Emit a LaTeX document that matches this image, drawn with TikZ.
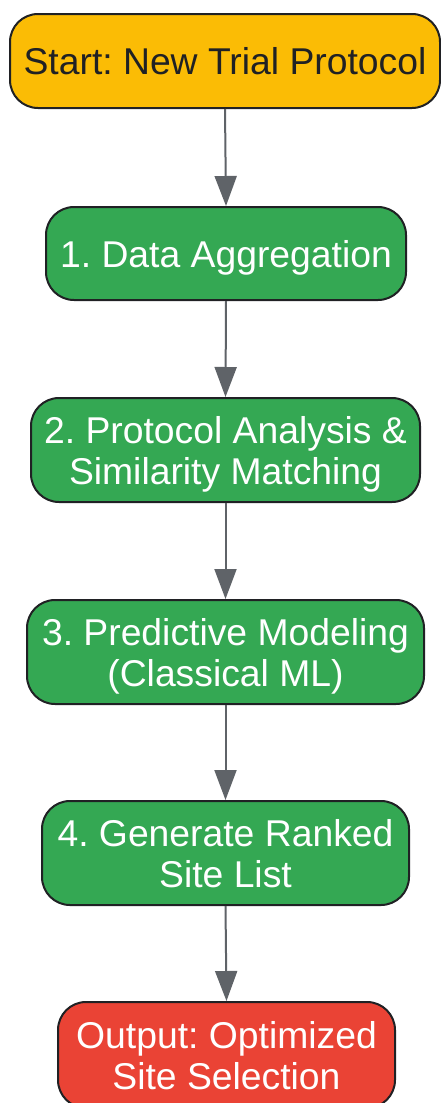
\documentclass[tikz,border=0pt]{standalone}
\usepackage{fontspec}
\setmainfont{Liberation Sans}
\usetikzlibrary{arrows.meta}
\definecolor{gyellow}{HTML}{FBBC05}
\definecolor{ggreen}{HTML}{34A853}
\definecolor{gred}{HTML}{EA4335}
\definecolor{gborder}{HTML}{202124}
\definecolor{garrow}{HTML}{5F6368}
\tikzset{
  stepbox/.style={draw=gborder, line width=2pt, rounded corners=28pt, align=center,
    inner sep=0pt, text depth=0pt, font=\fontsize{37.3}{41}\selectfont\frenchspacing},
  startbox/.style={stepbox, fill=gyellow, text=gborder},
  procbox/.style={stepbox, fill=ggreen, text=white},
  endbox/.style={stepbox, fill=gred, text=white},
  flow/.style={draw=garrow, line width=2pt, -{Triangle[length=30pt,width=22pt]}}
}
\begin{document}
\begin{tikzpicture}[x=1pt,y=-1pt]
\useasboundingbox (0,0) rectangle (441,1103);
\node[startbox, minimum width=430pt, minimum height=94pt] (n1) at (225,61) {Start: New Trial Protocol};
\node[procbox, minimum width=360pt, minimum height=93pt] (n2) at (226,253.5) {1. Data Aggregation};
\node[procbox, minimum width=389pt, minimum height=104pt] (n3) at (225.5,450) {2. Protocol Analysis \&\\Similarity Matching};
\node[procbox, minimum width=397pt, minimum height=104pt] (n4) at (225.5,652) {3. Predictive Modeling\\(Classical ML)};
\node[procbox, minimum width=367pt, minimum height=104pt] (n5) at (225.5,853) {4. Generate Ranked\\Site List};
\node[endbox, minimum width=337pt, minimum height=106pt] (n6) at (226.5,1055) {Output: Optimized\\Site Selection};
\draw[flow] (n1.south) -- (n2.north);
\draw[flow] (n2.south) -- (n3.north);
\draw[flow] (n3.south) -- (n4.north);
\draw[flow] (n4.south) -- (n5.north);
\draw[flow] (n5.south) -- (n6.north);
\end{tikzpicture}
\end{document}
